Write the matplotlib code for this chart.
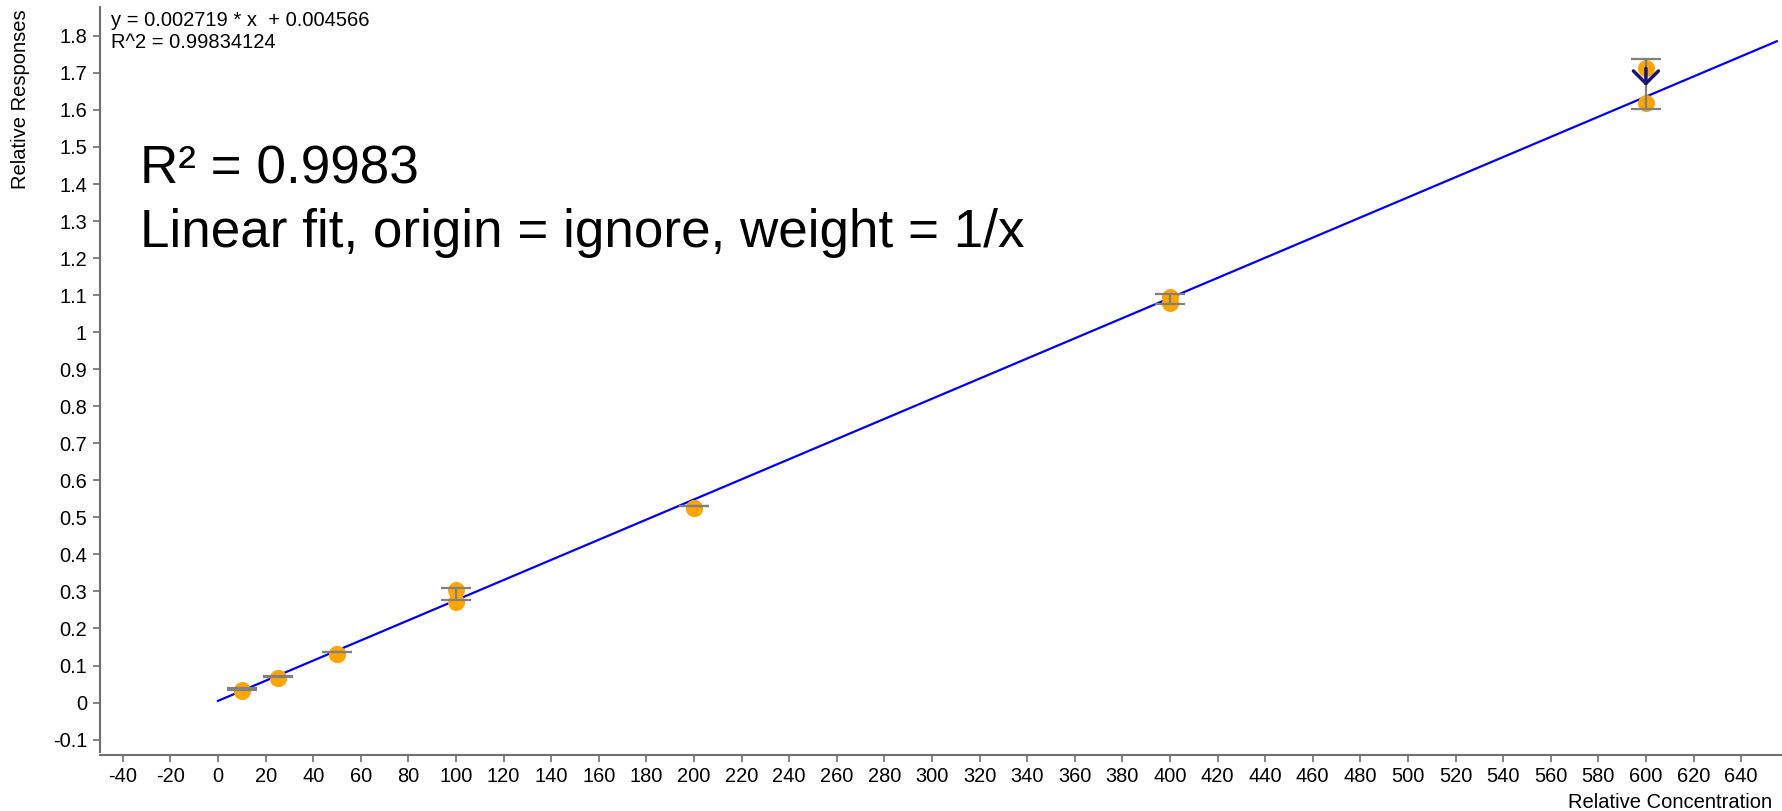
import numpy as np
import matplotlib.pyplot as plt

plt.rcParams['font.family'] = ['Liberation Sans', 'DejaVu Sans']

# replicate points
concentrations = [10, 10, 25, 25, 50, 50, 100, 100, 200, 200, 400, 400, 600, 600]
responses = [0.031, 0.034, 0.065, 0.066, 0.130, 0.131, 0.303, 0.272,
             0.524, 0.525, 1.096, 1.078, 1.713, 1.620]

# error bars per level (lower cap, upper cap)
levels = [10, 25, 50, 100, 200, 400, 600]
err_low = [0.035, 0.070, 0.136, 0.277, 0.530, 1.077, 1.602]
err_high = [0.039, 0.071, 0.137, 0.308, 0.531, 1.102, 1.738]

slope = 0.002719
intercept = 0.004566
r2 = 0.99834124
fit_x = [0, 655]

xticks = list(range(-40, 641, 20))
yticks = [-0.1, 0, 0.1, 0.2, 0.3, 0.4, 0.5, 0.6, 0.7, 0.8, 0.9, 1, 1.1,
          1.2, 1.3, 1.4, 1.5, 1.6, 1.7, 1.8]

fig = plt.figure(figsize=(17.83, 8.11), dpi=100)
ax = fig.add_axes([100/1783, 59/811, 1683/1783, 745/811])

fx = np.array(fit_x)
ax.plot(fx, slope*fx + intercept, color='#0000ff', lw=1.6, zorder=2)
ax.scatter(concentrations, responses, s=150, color='#ffa500', zorder=3, linewidths=0)

mid = [(a+b)/2 for a, b in zip(err_low, err_high)]
yerr = [[m-a for m, a in zip(mid, err_low)], [b-m for m, b in zip(mid, err_high)]]
ax.errorbar(levels, mid, yerr=yerr, fmt='none', ecolor='#808080',
            elinewidth=1.6, capsize=10.5, capthick=1.6, zorder=4)

# outlier arrow at 600
ax.annotate('', xy=(600, 1.665), xytext=(600, 1.712),
            arrowprops=dict(arrowstyle='->,head_length=0.45,head_width=0.45',
                            color='#14147a', lw=2.5, shrinkA=0, shrinkB=0,
                            mutation_scale=20), zorder=5)

ax.set_xlim(-49.6, 657.6)
ax.set_ylim(-0.1335, 1.878)
ax.set_xticks(xticks)
ax.set_xticklabels([str(t) for t in xticks])
ax.set_yticks(yticks)
ax.set_yticklabels(['%g' % t for t in yticks])

for s in ['top', 'right']:
    ax.spines[s].set_visible(False)
for s in ['left', 'bottom']:
    ax.spines[s].set_color('#707070')
    ax.spines[s].set_linewidth(1.5)
ax.spines['bottom'].set_position(('outward', 2))
ax.tick_params(axis='both', colors='#707070', labelcolor='black', labelsize=14.4,
               length=5, width=1.2)
ax.tick_params(axis='x', pad=4)
ax.tick_params(axis='y', pad=4.3)

fig.text(1772/1783, 1 - 808/811, 'Relative Concentration', ha='right', va='baseline', fontsize=14.5)
fig.text(21/1783, 1 - 9/811, 'Relative Responses', ha='center', va='top',
         rotation=90, fontsize=14.5)

fig.text(111/1783, 1 - 26/811, 'y = %.6f * x  + %.6f' % (slope, intercept),
         ha='left', va='baseline', fontsize=14.5)
fig.text(111/1783, 1 - 48/811, 'R^2 = %.8f' % r2, ha='left', va='baseline', fontsize=14.5)

fig.text(140/1783, 1 - 183/811, 'R\u00b2 = %.4f' % r2, ha='left', va='baseline', fontsize=38.2)
fig.text(140/1783, 1 - 247/811, 'Linear fit, origin = ignore, weight = 1/x',
         ha='left', va='baseline', fontsize=38.2)

plt.savefig('out.png', dpi=100)
